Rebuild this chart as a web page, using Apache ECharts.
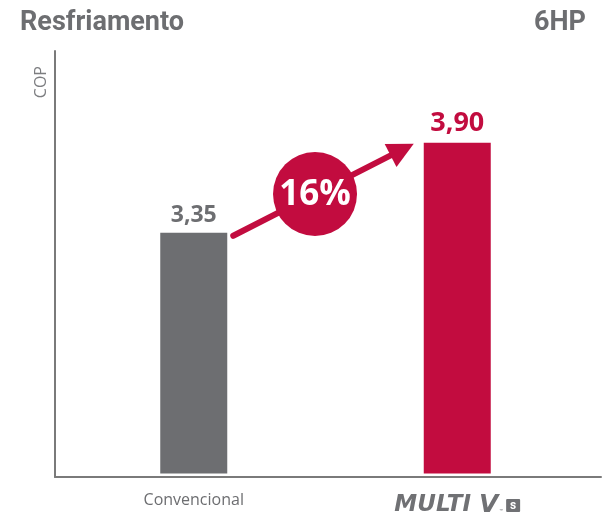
<!DOCTYPE html>
<html>
<head>
<meta charset="utf-8">
<script src="https://cdn.jsdelivr.net/npm/echarts@6/dist/echarts.min.js"></script>
<style>
  html, body { margin: 0; padding: 0; background: #ffffff; }
  #chart { width: 602px; height: 518px; }
</style>
</head>
<body>
<div id="chart"></div>
<script>
// COP comparison, cooling mode, 6HP
const categories = ['Convencional', 'MULTI V S'];
const copValues = [3.35, 3.90];
const valueLabels = ['3,35', '3,90'];
const titleText = 'Resfriamento';
const capacityText = '6HP';
const axisName = 'COP';

const GRAY = '#6d6e71';
const RED = '#c20c3f';
const LOGO = '#707174';
const FONT = 'Roboto, "Noto Sans", sans-serif';
const WIDE = '"Open Sans", Roboto, sans-serif';
const LOGO_FONT = '"DejaVu Sans", sans-serif';

const yMin = 1.88, yMax = 4.46;

const chart = echarts.init(document.getElementById('chart'), null, { renderer: 'canvas' });

const option = {
  animation: false,
  backgroundColor: '#ffffff',
  title: [
    { text: titleText, left: 15, top: 5,
      textStyle: { fontFamily: FONT, fontSize: 27, fontWeight: 'bold', color: GRAY } },
    { text: capacityText, right: 11, top: 5,
      textStyle: { fontFamily: FONT, fontSize: 27, fontWeight: 'bold', color: GRAY } }
  ],
  grid: [
    // frame axes (full width)
    { left: 55, right: 1, top: 51, bottom: 41 },
    // bars
    { left: 62, right: 13, top: 51, bottom: 41 }
  ],
  xAxis: [
    { gridIndex: 0, type: 'value', min: 0, max: 1,
      axisLine: { show: true, onZero: false, lineStyle: { color: '#7a7a7a', width: 2 } },
      axisTick: { show: false }, axisLabel: { show: false }, splitLine: { show: false } },
    { gridIndex: 1, type: 'category', data: categories,
      axisLine: { show: false }, axisTick: { show: false },
      axisLabel: {
        margin: 19,
        formatter: function (v) {
          if (v === 'MULTI V S') return '{m|MULTI}{v|V}{tm|™}{s|s}';
          return '{c|' + v + '}';
        },
        rich: {
          c: { fontFamily: WIDE, fontSize: 16, color: GRAY, fontWeight: 'normal' },
          m: { fontFamily: LOGO_FONT, fontSize: 23, fontWeight: 'bold', fontStyle: 'italic',
               color: LOGO, lineHeight: 26, verticalAlign: 'middle', padding: [0, 8, 0, 0] },
          v: { fontFamily: LOGO_FONT, fontSize: 25, fontWeight: 'bold', fontStyle: 'italic',
               color: LOGO, lineHeight: 26, verticalAlign: 'middle' },
          tm: { fontFamily: FONT, fontSize: 6, color: LOGO, lineHeight: 8,
                verticalAlign: 'middle', padding: [12, 3, 0, 1] },
          s: { fontFamily: FONT, fontSize: 12, fontWeight: 'bold', color: '#ffffff',
               backgroundColor: LOGO, borderRadius: 1, padding: [1, 3, 0, 3],
               width: 8, align: 'center', lineHeight: 13, verticalAlign: 'middle' }
        }
      } }
  ],
  yAxis: [
    { gridIndex: 0, type: 'value', min: yMin, max: yMax,
      name: axisName, nameLocation: 'end', nameRotate: 90, nameGap: -15,
      nameTextStyle: { fontFamily: WIDE, fontSize: 16, color: '#7c7d80', fontWeight: 'normal',
                       align: 'right', verticalAlign: 'bottom', padding: [0, 0, 6, 0] },
      axisLine: { show: true, onZero: false, lineStyle: { color: '#7a7a7a', width: 2 } },
      axisTick: { show: false }, axisLabel: { show: false }, splitLine: { show: false } },
    { gridIndex: 1, type: 'value', min: yMin, max: yMax, show: false }
  ],
  series: [
    {
      type: 'bar',
      xAxisIndex: 1, yAxisIndex: 1,
      barWidth: 67,
      data: copValues.map(function (v, i) {
        return {
          value: v,
          itemStyle: { color: i === 0 ? GRAY : RED },
          label: {
            show: true, position: 'top', distance: 6,
            formatter: valueLabels[i],
            fontFamily: WIDE, fontWeight: 'bold',
            fontSize: i === 0 ? 23 : 27,
            color: i === 0 ? GRAY : RED
          }
        };
      })
    }
  ]
};

chart.setOption(option);

// Arrow with the percentage gain between the two bars
const gain = Math.round((copValues[1] - copValues[0]) / copValues[0] * 100);
const halfBar = 67 / 2;
const p0 = chart.convertToPixel({ seriesIndex: 0 }, [0, copValues[0]]);
const p1 = chart.convertToPixel({ seriesIndex: 0 }, [1, copValues[1]]);
const start = [p0[0] + halfBar + 6, p0[1] + 3];
const tip = [p1[0] - halfBar - 10, p1[1] + 1];
const dx = tip[0] - start[0], dy = tip[1] - start[1];
const len = Math.sqrt(dx * dx + dy * dy);
const ux = dx / len, uy = dy / len;
const nx = -uy, ny = ux;
const headLen = 26, headHalf = 13;
const base = [tip[0] - ux * headLen, tip[1] - uy * headLen];
const lineEnd = [tip[0] - ux * (headLen - 4), tip[1] - uy * (headLen - 4)];
const ct = 0.453;
const center = [start[0] + dx * ct, start[1] + dy * ct];

chart.setOption({
  graphic: [
    { type: 'line', z: 10,
      shape: { x1: start[0], y1: start[1], x2: lineEnd[0], y2: lineEnd[1] },
      style: { stroke: RED, lineWidth: 6, lineCap: 'round' } },
    { type: 'polygon', z: 10,
      shape: { points: [tip,
        [base[0] + nx * headHalf, base[1] + ny * headHalf],
        [base[0] - nx * headHalf, base[1] - ny * headHalf]] },
      style: { fill: RED } },
    { type: 'circle', z: 11,
      shape: { cx: center[0], cy: center[1], r: 42 },
      style: { fill: RED } },
    { type: 'text', z: 12, x: center[0], y: center[1] + 1,
      style: { text: gain + '%', fill: '#ffffff', fontFamily: WIDE, fontWeight: 'bold',
               fontSize: 35, align: 'center', verticalAlign: 'middle' } }
  ]
});
</script>
</body>
</html>
